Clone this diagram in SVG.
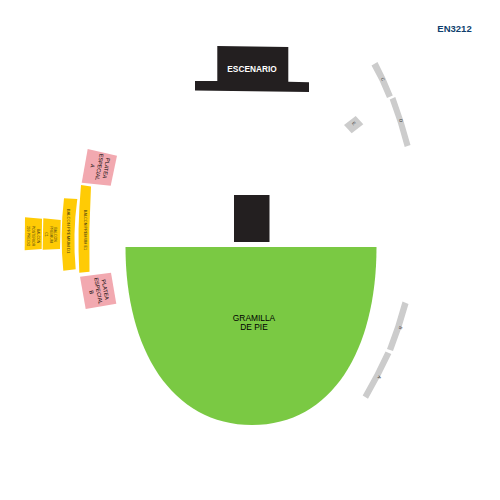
<svg xmlns="http://www.w3.org/2000/svg" width="500" height="500" viewBox="0 0 500 500">
<style>
text{font-family:"Liberation Sans",Arial,sans-serif;text-anchor:middle;fill:#000}
.g{fill:#cccccc}.y{fill:#ffcb05}.p{fill:#f2a9b0}.k{fill:#231f20}
.t{font-size:5.500px}.s{font-size:3.800px;fill:#4a3f10}.d{font-size:4.200px;fill:#4a3f10}.u{font-size:3.500px;fill:#4a3f10}.v{font-size:4.500px;fill:#444}
</style>
<rect width="500" height="500" fill="#fff"/>
<g id="code"><text x="454.500" y="31.500" font-size="9.500" font-weight="700" style="fill:#0f3f6e">EN3212</text></g>
<g id="escenario"><path class="k" d="M217.300 46L288.300 47V81.700L309 82.300V92L195 90.500V81H217.300Z"/><text x="252" y="72" font-size="8.300" font-weight="700" style="fill:#fff">ESCENARIO</text></g>
<g id="control"><rect class="k" x="234" y="195" width="35.500" height="47"/></g>
<g id="gramilla"><path d="M125.500 247H376.500C376.500 350 332 425 252 425C172 425 125.500 350 125.500 247Z" fill="#7ac943"/><text x="254" y="321" font-size="8.400">GRAMILLA</text><text x="254" y="330" font-size="8.400">DE PIE</text></g>
<g id="platea-a"><path class="p" d="M87.700 149L117 155.700L110.700 185.700L81.700 182.700Z"/><g transform="translate(99 167) rotate(100)"><text class="t" y="-5.500">PLATEA</text><text class="t" y="1.500">ESPECIAL</text><text class="t" y="8.500">A</text></g></g>
<g id="platea-b"><path class="p" d="M80 276.700L111 272.700L116.300 303.700L85.700 309Z"/><g transform="translate(98 291) rotate(80)"><text class="t" y="-5.500">PLATEA</text><text class="t" y="1.500">ESPECIAL</text><text class="t" y="8.500">B</text></g></g>
<g id="balcon-e1"><path class="y" d="M81 185L91 186.500Q88.500 229 89.500 271.700L79.300 272.700Q77 229 81 185Z"/><text class="s" transform="translate(83.500 230) rotate(90)">BALCON PREMIUM E1</text></g>
<g id="balcon-d1"><path class="y" d="M64 198.300L77.300 199Q72.500 234 75.700 269.300L63.300 270.700Q59.700 235 64 198.300Z"/><text class="d" transform="translate(67 231) rotate(90)">BALCON PREMIUM D1</text></g>
<g id="balcon-c1"><path class="y" d="M43.300 218.300L60.700 220L60 249L42.700 249.700Z"/><g transform="translate(51 234.500) rotate(90)"><text class="u" y="-3.200">BALCON</text><text class="u" y="1.200">PREMIUM</text><text class="u" y="5.600">C1</text></g></g>
<g id="balcon-posterior"><path class="y" d="M25 217.300L42 218.700L41.700 249L24.700 250.300Z"/><g transform="translate(33 236) rotate(90)"><text class="u" y="-3.500">BALCON</text><text class="u" y="1.200">POSTERIOR</text><text class="u" y="5.900">200 PRECIO</text></g></g>
<g id="gray-1"><path class="g" d="M371.500 65.500L377.500 62Q386 78 392.800 95.500L387 98Q380.500 81 371.500 65.500Z"/><text class="v" transform="translate(381.500 80) rotate(65)">C</text></g>
<g id="gray-2"><path class="g" d="M389.700 99.500L395.300 97Q403.800 120 410.500 145L404.700 147Q398.500 122.500 389.700 99.500Z"/><text class="v" transform="translate(399.500 121) rotate(72)">D</text></g>
<g id="gray-3"><path class="g" d="M344 125L355.700 116L363.300 124.300L351.700 133.300Z"/><text class="v" transform="translate(352.800 124.500) rotate(50)">E</text></g>
<g id="gray-4"><path class="g" d="M402.500 301.500L408.500 304Q402 328 393 351L387 349Q396 326 402.500 301.500Z"/><text class="v" transform="translate(399 327.500) rotate(108)">B</text></g>
<g id="gray-5"><path class="g" d="M385.500 351.500L391.300 354Q380.500 377 368 398.700L362.700 395.500Q375 374.500 385.500 351.500Z"/><text class="v" transform="translate(378 376.500) rotate(118)">A</text></g>
<g id="connectors"/>
</svg>
